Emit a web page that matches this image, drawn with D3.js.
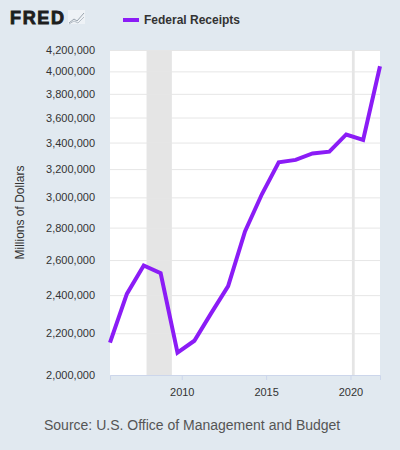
<!DOCTYPE html>
<html>
<head>
<meta charset="utf-8">
<script src="https://cdn.jsdelivr.net/npm/d3@7"></script>
<style>
  body { margin: 0; background: #e1e9f0; }
  svg { display: block; font-family: "Liberation Sans", Arial, sans-serif; }
  .grid line { stroke: #e6e6e6; }
  .grid path { display: none; }
  .axis text { fill: #333; font-size: 11px; }
</style>
</head>
<body>
<script>
// fiscal years, dated Oct 1 as on FRED
const years = [2005, 2006, 2007, 2008, 2009, 2010, 2011, 2012, 2013, 2014, 2015, 2016, 2017, 2018, 2019, 2020, 2021];
const receipts = [2153611, 2406869, 2567985, 2523991, 2104989, 2162706, 2303466, 2449988, 2775103, 3021487, 3249886, 3267961, 3316184, 3329907, 3463364, 3421164, 4047111];
const yTicks = [2000000, 2200000, 2400000, 2600000, 2800000, 3000000, 3200000, 3400000, 3600000, 3800000, 4000000, 4200000];
const xTicks = [2010, 2015, 2020];
const recessions = [["2007-12-01", "2009-06-01"], ["2020-02-01", "2020-04-01"]];

const data = years.map((y, i) => ({ date: new Date(y, 9, 1), value: receipts[i] }));

const width = 400, height = 450;
const margin = { top: 50, right: 20, bottom: 75, left: 110 };

const svg = d3.select("body").append("svg")
    .attr("width", width)
    .attr("height", height);

const x = d3.scaleTime()
    .domain(d3.extent(data, d => d.date))
    .range([margin.left, width - margin.right]);

const y = d3.scaleLog()
    .domain([2000000, 4200000])
    .range([height - margin.bottom, margin.top]);

// plot background
svg.append("rect")
    .attr("x", margin.left)
    .attr("y", margin.top)
    .attr("width", width - margin.left - margin.right)
    .attr("height", height - margin.top - margin.bottom)
    .attr("fill", "#fff");

// recession bars
svg.selectAll(".rec")
    .data(recessions)
    .enter().append("rect")
    .attr("class", "rec")
    .attr("x", d => x(new Date(d[0])))
    .attr("width", d => x(new Date(d[1])) - x(new Date(d[0])))
    .attr("y", margin.top)
    .attr("height", height - margin.top - margin.bottom)
    .attr("fill", "#e5e5e5");

// y grid + labels
svg.append("g")
    .attr("class", "grid")
    .attr("transform", "translate(" + margin.left + ",0)")
    .call(d3.axisLeft(y)
        .tickValues(yTicks)
        .tickSize(-(width - margin.left - margin.right))
        .tickFormat(""));

const yAxis = svg.append("g")
    .attr("class", "axis")
    .attr("transform", "translate(" + (margin.left - 15) + ",0)")
    .call(d3.axisLeft(y)
        .tickValues(yTicks)
        .tickSize(0)
        .tickPadding(0)
        .tickFormat(d3.format(",")));
yAxis.select(".domain").remove();

// x axis
const xAxis = svg.append("g")
    .attr("class", "axis")
    .attr("transform", "translate(0," + (height - margin.bottom) + ")")
    .call(d3.axisBottom(x)
        .tickValues(xTicks.map(t => new Date(t, 0, 1)))
        .tickSize(5)
        .tickPadding(6)
        .tickFormat(d3.timeFormat("%Y")));
xAxis.select(".domain").attr("stroke", "#ccd6eb");
xAxis.selectAll(".tick line").attr("stroke", "#ccd6eb");
xAxis.selectAll(".tick text").attr("dy", "0.9em");

// series
svg.append("path")
    .datum(data)
    .attr("fill", "none")
    .attr("stroke", "#8b1cf6")
    .attr("stroke-width", 4)
    .attr("stroke-linejoin", "miter")
    .attr("d", d3.line()
        .x(d => x(d.date))
        .y(d => y(d.value)));

// y title
svg.append("text")
    .attr("transform", "translate(24," + ((margin.top + height - margin.bottom) / 2) + ") rotate(-90)")
    .attr("text-anchor", "middle")
    .attr("fill", "#333")
    .attr("font-size", 12)
    .text("Millions of Dollars");

// logo
svg.append("text")
    .attr("x", 10)
    .attr("y", 24)
    .attr("font-size", 18)
    .attr("font-weight", "bold")
    .attr("font-family", "'Liberation Sans', Arial, sans-serif")
    .attr("fill", "#1e1e1e")
    .attr("stroke", "#1e1e1e")
    .attr("stroke-width", 0.9)
    .attr("textLength", 54)
    .text("FRED");
const logo = svg.append("g").attr("transform", "translate(68,10)");
logo.append("rect").attr("width", 17).attr("height", 14).attr("fill", "#eef2f6");
logo.append("path").attr("d", "M1,13 L6,9 L9,11 L16,3").attr("fill", "none").attr("stroke", "#9aa4ae").attr("stroke-width", 1);
logo.append("path").attr("d", "M1,14 L6,11 L10,13 L16,7").attr("fill", "none").attr("stroke", "#b5bec7").attr("stroke-width", 1);

// legend
svg.append("rect")
    .attr("x", 123)
    .attr("y", 18)
    .attr("width", 16)
    .attr("height", 4)
    .attr("fill", "#8b1cf6");
svg.append("text")
    .attr("x", 144)
    .attr("y", 24)
    .attr("font-size", 12)
    .attr("font-weight", "bold")
    .attr("fill", "#333")
    .text("Federal Receipts");

// source
svg.append("text")
    .attr("x", 44)
    .attr("y", 430)
    .attr("font-size", 14)
    .attr("fill", "#555")
    .text("Source: U.S. Office of Management and Budget");
</script>
</body>
</html>
